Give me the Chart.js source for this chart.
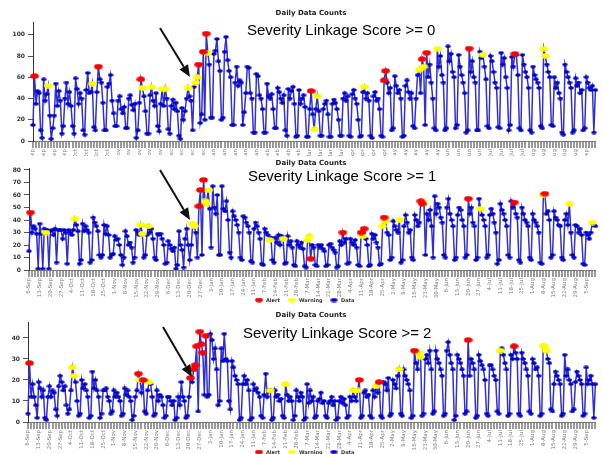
<!DOCTYPE html>
<html>
<head>
<meta charset="utf-8">
<script src="https://cdn.jsdelivr.net/npm/chart.js@4.4.1/dist/chart.umd.min.js"></script>
<style>
  html, body { margin: 0; padding: 0; background: #fff; }
  #wrap { position: relative; width: 603px; height: 454px; overflow: hidden; }
  #wrap canvas { position: absolute; left: 0; }
</style>
</head>
<body>
<div id="wrap">
  <canvas id="c0" width="603" height="156" style="top:0px"></canvas>
  <canvas id="c1" width="603" height="148" style="top:156px"></canvas>
  <canvas id="c2" width="603" height="150" style="top:304px"></canvas>
</div>
<script>
"use strict";

// one row per week (Mon..Sun), 53 weeks
const WEEK_LABELS = [
  "6-Sep", "13-Sep", "20-Sep", "27-Sep", "4-Oct", "11-Oct", "18-Oct", "25-Oct", "1-Nov", "8-Nov",
  "15-Nov", "22-Nov", "29-Nov", "6-Dec", "13-Dec", "20-Dec", "27-Dec", "3-Jan", "10-Jan", "17-Jan",
  "24-Jan", "31-Jan", "7-Feb", "14-Feb", "21-Feb", "28-Feb", "7-Mar", "14-Mar", "21-Mar", "28-Mar",
  "4-Apr", "11-Apr", "18-Apr", "25-Apr", "2-May", "9-May", "16-May", "23-May", "30-May", "6-Jun",
  "13-Jun", "20-Jun", "27-Jun", "4-Jul", "11-Jul", "18-Jul", "25-Jul", "1-Aug", "8-Aug", "15-Aug",
  "22-Aug", "29-Aug", "5-Sep",
];

const COUNTS_SCORE0 = [
  15, 61, 35, 47, 45, 10, 3,
  58, 38, 44, 52, 24, 2, 12,
  24, 54, 33, 47, 38, 7, 14,
  40, 55, 35, 46, 33, 14, 7,
  59, 49, 35, 45, 40, 10, 6,
  48, 64, 45, 46, 54, 13, 10,
  46, 70, 58, 55, 36, 10, 10,
  51, 54, 62, 38, 26, 14, 14,
  38, 42, 30, 26, 32, 12, 12,
  40, 43, 34, 29, 35, 3, 10,
  36, 58, 50, 42, 28, 7, 7,
  43, 51, 38, 33, 45, 14, 9,
  35, 49, 33, 49, 40, 11, 7,
  33, 39, 30, 36, 28, 5, 2,
  31, 20, 28, 40, 50, 42, 38,
  10, 51, 55, 60, 72, 17, 25,
  84, 20, 101, 83, 72, 22, 22,
  82, 85, 96, 75, 66, 20, 22,
  84, 98, 76, 66, 60, 15, 15,
  55, 70, 52, 57, 55, 15, 27,
  45, 70, 69, 45, 40, 8, 8,
  63, 61, 43, 40, 30, 8, 8,
  54, 42, 40, 44, 30, 12, 12,
  50, 46, 40, 36, 43, 10, 5,
  49, 40, 47, 51, 35, 4, 5,
  48, 35, 40, 43, 32, 4, 4,
  30, 47, 25, 11, 30, 42, 28,
  5, 5, 30, 35, 38, 25, 4,
  4, 35, 39, 36, 30, 20, 5,
  5, 40, 45, 38, 42, 5, 4,
  44, 48, 40, 35, 20, 4, 5,
  46, 51, 40, 45, 38, 5, 3,
  42, 46, 38, 40, 30, 5, 4,
  57, 66, 55, 45, 50, 10, 12,
  61, 52, 45, 48, 40, 4, 5,
  52, 57, 46, 40, 45, 14, 12,
  40, 62, 67, 45, 77, 70, 15,
  83, 60, 72, 55, 40, 12, 10,
  87, 70, 80, 62, 55, 10, 12,
  89, 75, 82, 65, 60, 12, 15,
  81, 70, 62, 55, 45, 8, 10,
  87, 65, 75, 60, 55, 10, 10,
  84, 78, 81, 70, 58, 14, 12,
  80, 75, 65, 55, 50, 13, 12,
  83, 72, 78, 60, 50, 10, 15,
  79, 70, 82, 81, 62, 12, 10,
  81, 72, 65, 60, 50, 10, 8,
  70, 62, 58, 55, 50, 14, 12,
  87, 80, 72, 65, 60, 15, 14,
  60, 50, 55, 45, 40, 8, 6,
  72, 65, 60, 55, 50, 8, 10,
  59, 52, 55, 45, 48, 10, 12,
  60, 55, 50, 48, 52, 8, 48,
];
const ALERTS_SCORE0 = [1, 43, 71, 109, 112, 114, 183, 231, 232, 256, 259, 287, 317];
const WARNINGS_SCORE0 = [10, 39, 72, 78, 85, 87, 102, 107, 108, 115, 185, 187, 218, 254, 257, 266, 296, 336, 337];

const COUNTS_SCORE1 = [
  15, 46, 30, 35, 33, 29, 1,
  37, 29, 1, 33, 30, 32, 1,
  31, 32, 28, 33, 6, 32, 32,
  32, 25, 32, 30, 5, 32, 30,
  28, 32, 41, 36, 31, 5, 8,
  37, 31, 35, 32, 30, 6, 8,
  42, 38, 35, 31, 12, 10, 12,
  36, 29, 35, 28, 10, 12, 13,
  27, 24, 25, 20, 12, 4, 10,
  31, 27, 20, 22, 18, 6, 10,
  32, 30, 28, 36, 29, 10, 12,
  28, 35, 30, 33, 25, 10, 8,
  29, 28, 29, 25, 20, 5, 6,
  23, 20, 17, 15, 18, 1, 4,
  31, 20, 16, 2, 25, 33, 20,
  8, 20, 37, 35, 30, 10, 51,
  64, 12, 72, 55, 53, 64, 49,
  18, 67, 50, 45, 60, 12, 12,
  67, 49, 47, 55, 40, 14, 10,
  47, 43, 40, 36, 30, 10, 8,
  43, 42, 38, 35, 30, 7, 6,
  33, 38, 35, 30, 25, 5, 4,
  33, 30, 28, 24, 26, 8, 6,
  26, 22, 28, 20, 27, 25, 5,
  6, 27, 20, 23, 18, 4, 3,
  23, 20, 18, 22, 17, 3, 2,
  24, 27, 9, 20, 18, 4, 3,
  20, 18, 20, 17, 15, 3, 4,
  20, 21, 18, 16, 14, 2, 3,
  23, 20, 30, 22, 25, 5, 6,
  25, 22, 20, 24, 18, 4, 3,
  30, 27, 33, 25, 20, 3, 4,
  29, 25, 28, 22, 18, 4, 5,
  35, 42, 39, 30, 28, 8, 10,
  39, 35, 32, 30, 40, 6, 8,
  35, 44, 38, 30, 32, 10, 8,
  44, 40, 35, 38, 55, 53, 54,
  12, 45, 40, 48, 35, 10, 59,
  45, 53, 50, 42, 38, 12, 10,
  50, 57, 45, 40, 35, 8, 10,
  44, 50, 48, 40, 35, 10, 12,
  57, 45, 50, 38, 35, 8, 10,
  57, 49, 44, 40, 35, 10, 12,
  44, 49, 45, 38, 30, 5, 8,
  53, 48, 45, 40, 35, 12, 10,
  55, 50, 54, 45, 42, 8, 6,
  50, 45, 40, 38, 35, 10, 8,
  45, 40, 38, 35, 30, 6, 5,
  60, 61, 45, 47, 40, 10, 12,
  47, 42, 40, 36, 35, 10, 8,
  40, 45, 36, 53, 30, 12, 10,
  36, 35, 30, 33, 28, 5, 4,
  30, 28, 25, 30, 38, 36, 35,
];
const ALERTS_SCORE1 = [1, 111, 112, 114, 184, 205, 217, 219, 232, 256, 257, 287, 317, 337];
const WARNINGS_SCORE1 = [11, 30, 73, 74, 78, 107, 108, 115, 116, 117, 157, 166, 182, 183, 218, 231, 233, 242, 258, 295, 336, 353, 368];

const COUNTS_SCORE2 = [
  4, 28, 12, 18, 12, 8, 2,
  19, 16, 12, 15, 2, 1, 12,
  17, 12, 15, 14, 6, 3, 17,
  22, 19, 15, 17, 8, 4, 6,
  15, 26, 22, 19, 10, 3, 4,
  20, 16, 18, 15, 12, 2, 3,
  24, 16, 20, 15, 12, 2, 4,
  15, 15, 16, 12, 10, 4, 5,
  15, 12, 14, 12, 10, 3, 4,
  16, 13, 15, 12, 10, 1, 3,
  12, 15, 23, 20, 14, 20, 5,
  4, 15, 19, 18, 12, 3, 4,
  15, 10, 13, 12, 8, 2, 3,
  12, 12, 10, 8, 10, 1, 2,
  12, 8, 19, 12, 10, 2, 3,
  12, 21, 19, 25, 27, 36, 5,
  43, 37, 33, 13, 41, 12, 13,
  42, 39, 30, 35, 25, 8, 10,
  35, 29, 42, 30, 29, 10, 6,
  29, 26, 22, 20, 18, 1, 2,
  18, 22, 18, 20, 15, 1, 2,
  18, 15, 16, 14, 12, 3, 2,
  13, 23, 12, 15, 15, 1, 2,
  15, 12, 13, 10, 11, 3, 2,
  18, 13, 10, 12, 10, 1, 3,
  15, 12, 10, 14, 12, 1, 2,
  18, 9, 15, 10, 12, 2, 3,
  10, 11, 14, 9, 10, 3, 2,
  9, 10, 12, 8, 10, 1, 2,
  10, 12, 9, 11, 8, 2, 3,
  12, 10, 15, 12, 10, 15, 20,
  2, 3, 14, 15, 12, 13, 3,
  2, 15, 12, 17, 14, 19, 3,
  2, 19, 18, 15, 21, 3, 4,
  20, 18, 16, 22, 25, 4, 3,
  25, 22, 20, 18, 15, 2, 3,
  34, 28, 25, 33, 31, 3, 4,
  30, 32, 28, 34, 25, 4, 5,
  34, 30, 28, 25, 22, 3, 4,
  34, 38, 32, 28, 25, 1, 3,
  32, 30, 28, 25, 22, 4, 5,
  39, 22, 30, 28, 25, 2, 3,
  32, 29, 27, 25, 20, 4, 3,
  27, 27, 25, 22, 20, 5, 4,
  34, 35, 32, 28, 25, 3, 4,
  32, 30, 36, 33, 30, 4, 3,
  33, 30, 28, 25, 22, 5, 4,
  30, 28, 25, 26, 22, 3, 4,
  36, 36, 34, 30, 28, 6, 5,
  18, 24, 22, 20, 18, 3, 4,
  32, 22, 25, 20, 18, 5, 6,
  19, 24, 22, 20, 18, 3, 4,
  26, 18, 20, 22, 18, 2, 18,
];
const ALERTS_SCORE2 = [1, 72, 75, 106, 108, 109, 110, 112, 113, 114, 116, 216, 229, 252, 287, 317];
const WARNINGS_SCORE2 = [29, 30, 73, 79, 158, 168, 212, 215, 227, 242, 255, 256, 308, 336, 337, 338];

const FONT = "'DejaVu Sans', Verdana, sans-serif";

function ellipseImage(w, h, fill) {
  const c = document.createElement("canvas");
  c.width = w;
  c.height = h;
  const g = c.getContext("2d");
  g.fillStyle = fill;
  g.beginPath();
  g.ellipse(w / 2, h / 2, w / 2 - 0.2, h / 2 - 0.2, 0, 0, Math.PI * 2);
  g.fill();
  return c;
}

const DOT_DATA = ellipseImage(6, 4, "#0000c8");
const DOT_ALERT = ellipseImage(9, 6, "#ff0000");
const DOT_WARN = ellipseImage(9, 6, "#ffff00");

// header text, caption, arrow and the small legend drawn on top of each panel
const overlay = {
  id: "overlay",
  afterDraw(chart, args, o) {
    const ctx = chart.ctx;
    ctx.save();
    ctx.fillStyle = "#222";
    ctx.font = "bold 7px " + FONT;
    ctx.textAlign = "center";
    ctx.fillText("Daily Data Counts", 311, o.headerY);

    ctx.fillStyle = "#000";
    ctx.font = "15px 'Liberation Sans', Arial, sans-serif";
    ctx.textAlign = "left";
    ctx.fillText(o.caption, o.captionX, o.captionY);

    // arrow
    const [x0, y0, x1, y1] = o.arrow;
    const a = Math.atan2(y1 - y0, x1 - x0);
    const bx = x1 - 12 * Math.cos(a), by = y1 - 12 * Math.sin(a);
    ctx.strokeStyle = "#111";
    ctx.lineWidth = 2;
    ctx.beginPath();
    ctx.moveTo(x0, y0);
    ctx.lineTo(bx, by);
    ctx.stroke();
    ctx.fillStyle = "#111";
    ctx.beginPath();
    ctx.moveTo(x1, y1);
    ctx.lineTo(bx + 5 * Math.sin(a), by - 5 * Math.cos(a));
    ctx.lineTo(bx - 5 * Math.sin(a), by + 5 * Math.cos(a));
    ctx.closePath();
    ctx.fill();

    if (o.legendY != null) {
      const xs = [259, 292, 334];
      ctx.font = "bold 5px " + FONT;
      ctx.fillStyle = "#333";
      chart.data.datasets.forEach((ds, i) => {
        const img = ds.pointStyle;
        ctx.drawImage(img, xs[i] - 4, o.legendY - 2.5, 8, 5);
        ctx.fillText(ds.label, xs[i] + 7, o.legendY + 2);
      });
    }
    ctx.restore();
  },
};

function pick(values, idx) {
  return values.map((v, i) => (idx.includes(i) ? v : null));
}

function makePanel(id, values, alerts, warnings, p) {
  const labels = values.map((v, i) => i);
  return new Chart(document.getElementById(id), {
    type: "line",
    data: {
      labels,
      datasets: [
        { label: "Alert", data: pick(values, alerts), showLine: false, pointStyle: DOT_ALERT, pointRadius: 4, order: 0 },
        { label: "Warning", data: pick(values, warnings), showLine: false, pointStyle: DOT_WARN, pointRadius: 4, order: 1 },
        {
          label: "Data",
          data: values,
          borderColor: "#3030d2",
          borderWidth: 1.5,
          pointStyle: DOT_DATA,
          pointRadius: 3,
          tension: 0,
          order: 2,
        },
      ],
    },
    options: {
      responsive: false,
      animation: false,
      devicePixelRatio: 1,
      events: [],
      layout: { padding: { top: p.top, right: 3, left: 0, bottom: 0 } },
      plugins: {
        legend: { display: false },
        tooltip: { enabled: false },
        title: { display: false },
        overlay: p.overlay,
      },
      scales: {
        x: {
          type: "category",
          afterFit: (s) => { s.height = p.xHeight; },
          border: { display: true, color: "#777", width: 1 },
          grid: {
            drawOnChartArea: false,
            drawTicks: true,
            tickLength: 7,
            color: (c) => (c.index % 2 ? "rgba(0,0,0,0)" : "#9a9a9a"),
            lineWidth: 2,
          },
          ticks: {
            autoSkip: false,
            maxRotation: 90,
            minRotation: 90,
            padding: 1,
            color: "#808080",
            font: { family: FONT, size: 5.5 },
            callback: (v, i) => (i % 7 === 0 ? WEEK_LABELS[i / 7] : ""),
          },
        },
        y: {
          min: 0,
          max: p.max,
          afterFit: (s) => { s.width = p.yWidth; },
          border: { display: true, color: "#333", width: 1 },
          grid: { drawOnChartArea: false, drawTicks: true, tickLength: 5, color: "#555" },
          ticks: {
            stepSize: p.step,
            includeBounds: false,
            padding: 3,
            color: "#333",
            font: { family: FONT, size: 6, weight: "bold" },
          },
        },
      },
    },
    plugins: [overlay],
  });
}

makePanel("c0", COUNTS_SCORE0, ALERTS_SCORE0, WARNINGS_SCORE0, {
  top: 22, xHeight: 15, yWidth: 33, max: 112, step: 20,
  overlay: { headerY: 14.5, caption: "Severity Linkage Score >= 0", captionX: 247, captionY: 35, arrow: [160, 28, 190, 77], legendY: null },
});

makePanel("c1", COUNTS_SCORE1, ALERTS_SCORE1, WARNINGS_SCORE1, {
  top: 12, xHeight: 34, yWidth: 29, max: 81.6, step: 10,
  overlay: { headerY: 8.5, caption: "Severity Linkage Score >= 1", captionX: 248, captionY: 25, arrow: [160, 14, 190, 64], legendY: 144 },
});

makePanel("c2", COUNTS_SCORE2, ALERTS_SCORE2, WARNINGS_SCORE2, {
  top: 18, xHeight: 32, yWidth: 28, max: 47.6, step: 10,
  overlay: { headerY: 13, caption: "Severity Linkage Score >= 2", captionX: 243, captionY: 34, arrow: [163, 23, 192, 73], legendY: 148 },
});
</script>
</body>
</html>
